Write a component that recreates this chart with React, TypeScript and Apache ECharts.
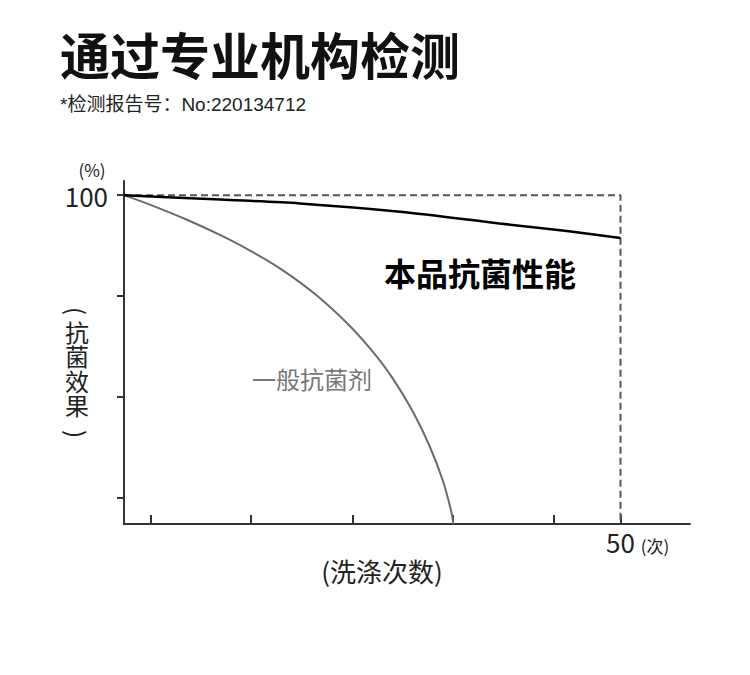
import React, { useEffect, useRef } from "react";
import * as echarts from "echarts";

const titleText = "通过专业机构检测";
const reportText = "*检测报告号：No:220134712";
const yAxisChars = ["抗", "菌", "效", "果"];
const xAxisTitle = "(洗涤次数)";
const xUnit = "(次)";
const yUnit = "(%)";
const productName = "本品抗菌性能";
const generalName = "一般抗菌剂";

const yTickValues = [25, 50, 75, 100];
const yLabelValues = [100];
const xTickValues = [2.7, 12.8, 23.0, 33.1, 43.3, 50];
const xLabelValues = [50];

const productX = [0, 9.7, 17.7, 27.8, 37.8, 44.6, 50];
const productY = [100, 98.9, 97.95, 95.9, 93.0, 91.1, 89.4];

const generalX = [0, 2.92, 6.34, 9.66, 12.68, 16.0, 19.42, 22.74, 25.05, 27.06, 29.07, 30.78, 32.09, 33.0, 33.15];
const generalY = [100, 97.35, 93.91, 90.15, 86.29, 81.39, 75.15, 67.62, 61.24, 54.65, 46.49, 37.85, 29.48, 21.24, 18.6];

const boxX = [0, 50, 50];
const boxY = [100, 100, 18.6];

const X_MIN = 0;
const X_MAX = 57;
const Y_MIN = 18.6;
const Y_MAX = 103.5;

const CJK = '"Noto Sans CJK SC", "Noto Sans", sans-serif';

export default function App() {
  const ref = useRef<HTMLDivElement>(null);

  useEffect(() => {
    if (!ref.current) return;
    const chart = echarts.init(ref.current, undefined, { renderer: "svg" });

    const zip = (xs: number[], ys: number[]) => xs.map((x, i) => [x, ys[i]]);

    chart.setOption({
      animation: false,
      backgroundColor: "#fff",
      grid: { left: 124, right: 60, top: 181, bottom: 151, containLabel: false },
      xAxis: {
        type: "value",
        min: X_MIN,
        max: X_MAX,
        splitLine: { show: false },
        axisLine: { show: true, lineStyle: { color: "#333", width: 2 } },
        axisTick: {
          show: true,
          inside: true,
          length: 9,
          customValues: xTickValues,
          lineStyle: { color: "#333", width: 2 },
        },
        axisLabel: {
          show: true,
          customValues: xLabelValues,
          margin: 4,
          fontSize: 26,
          color: "#222",
          fontFamily: CJK,
        },
      },
      yAxis: {
        type: "value",
        min: Y_MIN,
        max: Y_MAX,
        splitLine: { show: false },
        axisLine: { show: true, lineStyle: { color: "#333", width: 2 } },
        axisTick: {
          show: true,
          inside: false,
          length: 7,
          customValues: yTickValues,
          lineStyle: { color: "#333", width: 2 },
        },
        axisLabel: {
          show: true,
          customValues: yLabelValues,
          margin: 16,
          fontSize: 26,
          color: "#222",
          fontFamily: CJK,
        },
      },
      series: [
        {
          type: "line",
          data: zip(boxX, boxY),
          symbol: "none",
          lineStyle: { color: "#555", width: 2, type: [7, 4] },
          z: 1,
          silent: true,
        },
        {
          type: "line",
          name: generalName,
          data: zip(generalX, generalY),
          symbol: "none",
          smooth: 0.4,
          lineStyle: { color: "#6b6b6b", width: 2 },
          z: 2,
        },
        {
          type: "line",
          name: productName,
          data: zip(productX, productY),
          symbol: "none",
          smooth: 0.3,
          lineStyle: { color: "#000", width: 2.5 },
          z: 3,
        },
      ],
      graphic: [
        {
          type: "text",
          x: 60,
          y: 53,
          style: {
            text: titleText,
            font: `bold 50px ${CJK}`,
            fill: "#111",
            align: "left",
            verticalAlign: "middle",
          },
        },
        {
          type: "text",
          x: 60,
          y: 104,
          style: {
            text: reportText,
            font: `normal 19px "Liberation Sans", ${CJK}`,
            fill: "#222",
            align: "left",
            verticalAlign: "middle",
          },
        },
        {
          type: "text",
          x: 92,
          y: 169,
          style: {
            text: yUnit,
            font: `normal 17px ${CJK}`,
            fill: "#222",
            align: "center",
            verticalAlign: "middle",
          },
        },
        {
          type: "text",
          x: 480,
          y: 272,
          style: {
            text: productName,
            font: `bold 32px ${CJK}`,
            fill: "#000",
            align: "center",
            verticalAlign: "middle",
          },
        },
        {
          type: "text",
          x: 312,
          y: 378,
          style: {
            text: generalName,
            font: `normal 24px ${CJK}`,
            fill: "#777",
            align: "center",
            verticalAlign: "middle",
          },
        },
        {
          type: "text",
          x: 77,
          y: 311,
          rotation: -Math.PI / 2,
          style: {
            text: "(",
            font: `normal 24px ${CJK}`,
            fill: "#222",
            align: "center",
            verticalAlign: "middle",
          },
        },
        {
          type: "text",
          x: 77,
          y: 367.75,
          style: {
            text: yAxisChars.join("\n"),
            font: `normal 24px ${CJK}`,
            lineHeight: 24.5,
            fill: "#222",
            align: "center",
            verticalAlign: "middle",
          },
        },
        {
          type: "text",
          x: 77,
          y: 434,
          rotation: -Math.PI / 2,
          style: {
            text: ")",
            font: `normal 24px ${CJK}`,
            fill: "#222",
            align: "center",
            verticalAlign: "middle",
          },
        },
        {
          type: "text",
          x: 382,
          y: 570,
          style: {
            text: xAxisTitle,
            font: `normal 26px ${CJK}`,
            fill: "#222",
            align: "center",
            verticalAlign: "middle",
          },
        },
        {
          type: "text",
          x: 655,
          y: 545,
          style: {
            text: xUnit,
            font: `normal 17px ${CJK}`,
            fill: "#222",
            align: "center",
            verticalAlign: "middle",
          },
        },
      ],
    });

    return () => chart.dispose();
  }, []);

  return (
    <div
      ref={ref}
      style={{ position: "absolute", left: 0, top: 0, width: 750, height: 675, background: "#fff" }}
    />
  );
}
